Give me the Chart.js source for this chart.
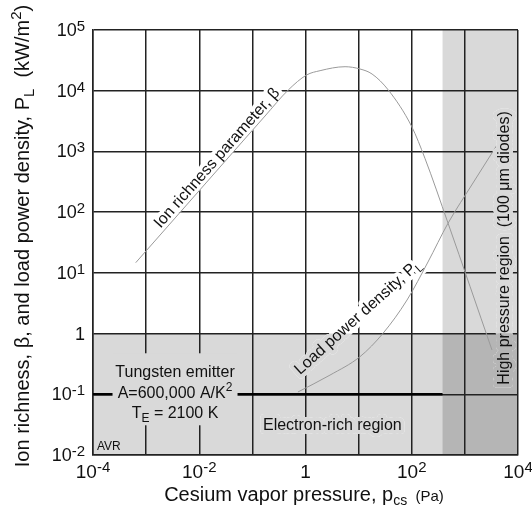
<!DOCTYPE html>
<html>
<head>
<meta charset="utf-8">
<script src="https://cdn.jsdelivr.net/npm/chart.js@4.4.0/dist/chart.umd.min.js"></script>
<style>
  html, body { margin: 0; padding: 0; background: #fff; }
  #wrap { width: 532px; height: 506px; }
</style>
</head>
<body>
<div id="wrap"><canvas id="chart"></canvas></div>
<script>
// values: pressure in Pa
const betaPressure = [6.37e-4, 0.0103, 0.173, 0.474, 1.05, 1.88, 5.55, 10.6, 17.9, 36.2, 100, 177, 481, 3240];
const betaValues   = [14.7, 233, 3830, 10280, 18160, 21380, 24850, 22800, 18840, 10280, 2560, 771, 66.2, 0.536];

const loadPressure = [0.72, 2.89, 10.6, 28.8, 81.5, 202, 481, 1422, 4027];
const loadValues   = [0.109, 0.207, 0.416, 1.01, 3.57, 15.1, 65.5, 302, 1276];

// beta = 0.1 boundary line and the shaded regions
const boundaryPressure = [1e-4, 380];
const boundaryValues   = [0.1, 0.1];
const electronRichTop = 1;        // beta below 1
const highPressureStart = 380;    // Pa

const xTicks = [1e-4, 1e-3, 1e-2, 1e-1, 1, 10, 100, 1e3, 1e4];
const xTickLabels = ['10^-4', '', '10^-2', '', '1', '', '10^2', '', '10^4'];
const yTicks = [1e-2, 1e-1, 1, 10, 100, 1e3, 1e4, 1e5];
const yTickLabels = ['10^-2', '10^-1', '1', '10^1', '10^2', '10^3', '10^4', '10^5'];

const FONT = '"Liberation Sans", Arial, Helvetica, sans-serif';
const GRID = '#222';
const LIGHT = '#d9d9d9';
const DARK = '#b5b5b5';
const TEXT = '#111';

// parts: [text, size, dy]
function drawRich(ctx, parts, x, y, align, mode) {
    let w = 0;
    parts.forEach(p => { ctx.font = p[1] + 'px ' + FONT; w += ctx.measureText(p[0]).width; });
    let cx = align === 'right' ? x - w : align === 'center' ? x - w / 2 : x;
    ctx.textAlign = 'left';
    ctx.textBaseline = 'alphabetic';
    parts.forEach(p => {
        ctx.font = p[1] + 'px ' + FONT;
        if (mode === 'stroke') ctx.strokeText(p[0], cx, y + (p[2] || 0));
        else ctx.fillText(p[0], cx, y + (p[2] || 0));
        cx += ctx.measureText(p[0]).width;
    });
    return w;
}

function powerParts(label, size, supSize, rise) {
    const [b, e] = label.split('^');
    return e === undefined ? [[b, size]] : [[b, size], [e, supSize, -rise]];
}

function regionRects(chart) {
    const x = chart.scales.x, y = chart.scales.y, a = chart.chartArea;
    const bx = x.getPixelForValue(highPressureStart);
    const by = y.getPixelForValue(electronRichTop);
    return [
        { c: '#ffffff', r: [a.left, a.top, a.right - a.left, a.bottom - a.top] },
        { c: LIGHT, r: [a.left, by, a.right - a.left, a.bottom - by] },
        { c: LIGHT, r: [bx, a.top, a.right - bx, a.bottom - a.top] },
        { c: DARK, r: [bx, by, a.right - bx, a.bottom - by] }
    ];
}

// text with a halo in the colour of whatever region lies beneath it
function haloText(chart, paint) {
    const ctx = chart.ctx;
    regionRects(chart).forEach(g => {
        ctx.save();
        ctx.beginPath();
        ctx.rect(g.r[0], g.r[1], g.r[2], g.r[3]);
        ctx.clip();
        ctx.strokeStyle = g.c;
        ctx.lineWidth = 8;
        ctx.lineJoin = 'round';
        paint(ctx, 'stroke');
        ctx.restore();
    });
    ctx.save();
    ctx.fillStyle = TEXT;
    paint(ctx, 'fill');
    ctx.restore();
}

function rotatedLabel(chart, parts, px, py, deg) {
    const x = chart.scales.x.getPixelForValue(px);
    const y = chart.scales.y.getPixelForValue(py);
    haloText(chart, (ctx, mode) => {
        ctx.translate(x, y);
        ctx.rotate(deg * Math.PI / 180);
        drawRich(ctx, parts, 0, 6, 'center', mode);
    });
}

const regionsPlugin = {
    id: 'regions',
    beforeDraw(chart) {
        const ctx = chart.ctx;
        ctx.save();
        regionRects(chart).slice(1).forEach(g => {
            ctx.fillStyle = g.c;
            ctx.fillRect(g.r[0], g.r[1], g.r[2], g.r[3]);
        });
        ctx.restore();
    },
    beforeDatasetsDraw(chart) {
        rotatedLabel(chart, [['Ion richness parameter, \u03b2', 16]], 0.0207, 809, -48.5);
        rotatedLabel(chart, [['Load power density, P', 16], ['L', 12, 4]], 9.3, 1.95, -42);
    },
    afterDatasetsDraw(chart) {
        const ctx = chart.ctx;
        const xs = chart.scales.x, ys = chart.scales.y;

        // Tungsten emitter box
        const tx = xs.getPixelForValue(3.5e-3);
        const ty = ys.getPixelForValue(0.1);
        const lines = [
            [['Tungsten emitter', 16]],
            [['A=600,000 A/K', 16], ['2', 12, -7]],
            [['T', 16], ['E', 12, 4], [' = 2100 K', 16]]
        ];
        const offs = [-17, 3.5, 24];
        ctx.save();
        ctx.fillStyle = LIGHT;
        ctx.fillRect(tx - 62.5, ty - 41, 125, 72);
        ctx.fillStyle = TEXT;
        lines.forEach((l, i) => drawRich(ctx, l, tx, ty + offs[i], 'center', 'fill'));
        ctx.restore();

        // Electron-rich region
        const ex = xs.getPixelForValue(3.2), ey = ys.getPixelForValue(0.032);
        haloText(chart, (c, mode) => drawRich(c, [['Electron-rich region', 16]], ex, ey + 6, 'center', mode));

        // High pressure region
        rotatedLabel(chart, [['High pressure region  (100 \u03bcm diodes)', 16]], 5250, 25.7, -90);

        // AVR
        ctx.save();
        ctx.fillStyle = TEXT;
        drawRich(ctx, [['AVR', 12]], chart.chartArea.left + 4, chart.chartArea.bottom - 5, 'left', 'fill');
        ctx.restore();
    },
    afterDraw(chart) {
        const ctx = chart.ctx;
        const xs = chart.scales.x, ys = chart.scales.y, a = chart.chartArea;
        ctx.save();
        ctx.fillStyle = TEXT;
        xTicks.forEach((v, i) => {
            if (!xTickLabels[i]) return;
            drawRich(ctx, powerParts(xTickLabels[i], 19, 15, 6), xs.getPixelForValue(v), a.bottom + 23, 'center', 'fill');
        });
        yTicks.forEach((v, i) => {
            drawRich(ctx, powerParts(yTickLabels[i], 18, 15, 5), a.left - 8, ys.getPixelForValue(v) + 6, 'right', 'fill');
        });
        // axis titles
        drawRich(ctx, [['Cesium vapor pressure, p', 20], ['cs', 14, 4], ['  (Pa)', 15]], 304, 501, 'center', 'fill');
        ctx.translate(29, 236);
        ctx.rotate(-Math.PI / 2);
        drawRich(ctx, [['Ion richness, \u03b2, and load power density, P', 20], ['L', 15, 5],
                       ['  (kW/m', 20], ['2', 15, -8], [')', 20]], 0, 0, 'center', 'fill');
        ctx.restore();
    }
};

const toPoints = (xs, ys) => xs.map((x, i) => ({ x: x, y: ys[i] }));

new Chart(document.getElementById('chart'), {
    type: 'line',
    data: {
        datasets: [
            {
                label: 'Ion richness parameter',
                data: toPoints(betaPressure, betaValues),
                borderColor: '#9a9a9a', borderWidth: 1, pointRadius: 0,
                cubicInterpolationMode: 'monotone', fill: false
            },
            {
                label: 'Load power density',
                data: toPoints(loadPressure, loadValues),
                borderColor: '#9a9a9a', borderWidth: 1, pointRadius: 0,
                cubicInterpolationMode: 'monotone', fill: false
            },
            {
                label: 'Boundary',
                data: toPoints(boundaryPressure, boundaryValues),
                borderColor: '#000', borderWidth: 2.5, pointRadius: 0, fill: false
            }
        ]
    },
    options: {
        responsive: true,
        maintainAspectRatio: false,
        animation: false,
        layout: { padding: { left: 93, top: 30, right: 14, bottom: 51 } },
        plugins: { legend: { display: false }, tooltip: { enabled: false } },
        scales: {
            x: {
                type: 'logarithmic', min: 1e-4, max: 1e4,
                afterBuildTicks: s => { s.ticks = xTicks.map(v => ({ value: v })); },
                ticks: { display: false },
                grid: { color: GRID, lineWidth: 1.5, drawTicks: false },
                border: { color: GRID, width: 1.5 }
            },
            y: {
                type: 'logarithmic', min: 1e-2, max: 1e5,
                afterBuildTicks: s => { s.ticks = yTicks.map(v => ({ value: v })); },
                ticks: { display: false },
                grid: { color: GRID, lineWidth: 1.5, drawTicks: false },
                border: { color: GRID, width: 1.5 }
            }
        }
    },
    plugins: [regionsPlugin]
});
</script>
</body>
</html>
